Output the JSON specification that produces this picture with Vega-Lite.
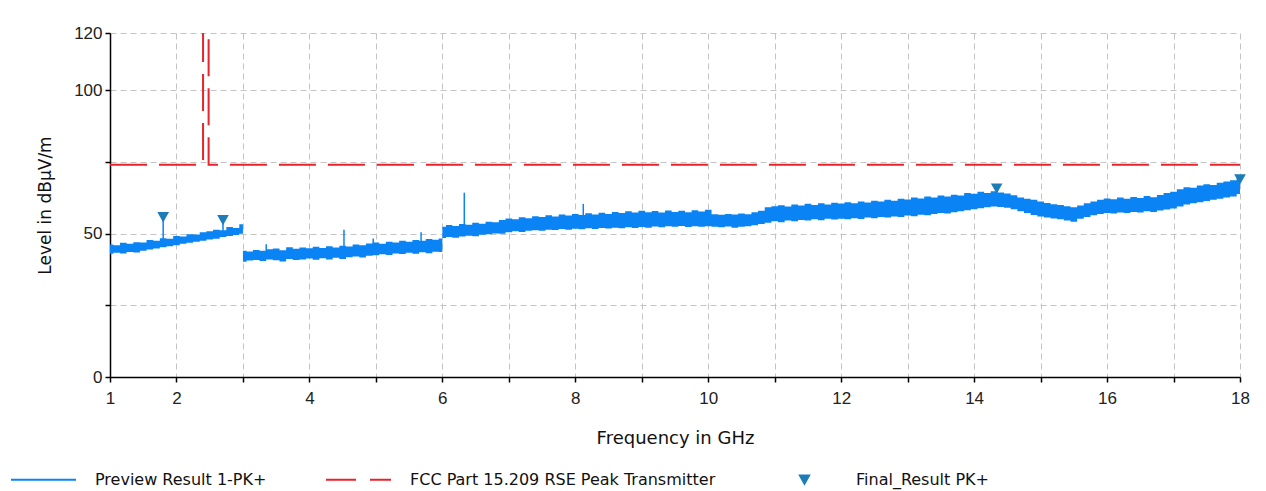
{
  "$schema": "https://vega.github.io/schema/vega-lite/v6.json",
  "width": 1130,
  "height": 344,
  "autosize": "none",
  "padding": {"left": 110, "top": 33, "right": 26, "bottom": 114},
  "background": "white",
  "config": {
    "font": "DejaVu Sans",
    "view": {"stroke": null},
    "axis": {
      "domainColor": "#000000",
      "domainWidth": 1.5,
      "tickColor": "#000000",
      "tickWidth": 1.5,
      "tickSize": 5,
      "gridColor": "#c4c4c4",
      "gridDash": [6, 4],
      "gridWidth": 1,
      "labelFont": "Liberation Sans",
      "labelFontSize": 17,
      "labelColor": "#222222",
      "titleFont": "DejaVu Sans",
      "titleFontSize": 17,
      "titleFontWeight": "normal",
      "titleColor": "#111111"
    },
    "legend": {
      "orient": "none",
      "legendX": -100,
      "legendY": 413,
      "direction": "horizontal",
      "columns": 3,
      "gridAlign": "each",
      "columnPadding": 55,
      "padding": 0,
      "labelFont": "DejaVu Sans",
      "labelFontSize": 16,
      "labelColor": "#111111",
      "labelOffset": 18,
      "labelLimit": 500,
      "symbolSize": 4225,
      "symbolStrokeWidth": 2
    }
  },
  "datasets": {
    "trace": [
      {"f": 1.0, "lo": 43.0, "hi": 46.2}, {"f": 1.1, "lo": 43.3, "hi": 46.0}, {"f": 1.2, "lo": 43.1, "hi": 46.8}, {"f": 1.3, "lo": 43.6, "hi": 46.5}, {"f": 1.4, "lo": 43.4, "hi": 47.0},
      {"f": 1.5, "lo": 44.0, "hi": 46.9}, {"f": 1.6, "lo": 44.5, "hi": 47.8}, {"f": 1.7, "lo": 44.8, "hi": 47.5}, {"f": 1.8, "lo": 45.3, "hi": 48.4}, {"f": 1.9, "lo": 45.6, "hi": 48.2},
      {"f": 2.0, "lo": 46.0, "hi": 49.2}, {"f": 2.1, "lo": 46.5, "hi": 49.0}, {"f": 2.2, "lo": 46.8, "hi": 49.8}, {"f": 2.3, "lo": 47.2, "hi": 49.7}, {"f": 2.4, "lo": 47.5, "hi": 50.5},
      {"f": 2.5, "lo": 48.0, "hi": 50.8}, {"f": 2.6, "lo": 48.2, "hi": 51.4}, {"f": 2.7, "lo": 48.8, "hi": 51.2}, {"f": 2.8, "lo": 49.2, "hi": 52.3}, {"f": 2.9, "lo": 49.5, "hi": 52.0},
      {"f": 2.99, "lo": 50.0, "hi": 53.3}, {"f": 3.01, "lo": 40.2, "hi": 44.0}, {"f": 3.1, "lo": 40.6, "hi": 43.8}, {"f": 3.2, "lo": 40.8, "hi": 44.3}, {"f": 3.3, "lo": 40.5, "hi": 44.0},
      {"f": 3.4, "lo": 41.0, "hi": 44.6}, {"f": 3.5, "lo": 40.7, "hi": 44.8}, {"f": 3.6, "lo": 40.3, "hi": 44.2}, {"f": 3.7, "lo": 41.2, "hi": 45.3}, {"f": 3.8, "lo": 40.8, "hi": 44.7},
      {"f": 3.9, "lo": 41.0, "hi": 45.2}, {"f": 4.0, "lo": 41.3, "hi": 44.9}, {"f": 4.1, "lo": 40.9, "hi": 45.4}, {"f": 4.2, "lo": 41.4, "hi": 45.0}, {"f": 4.3, "lo": 41.0, "hi": 45.6},
      {"f": 4.4, "lo": 41.6, "hi": 45.2}, {"f": 4.5, "lo": 41.2, "hi": 45.8}, {"f": 4.6, "lo": 41.8, "hi": 45.5}, {"f": 4.7, "lo": 42.0, "hi": 46.2}, {"f": 4.8, "lo": 41.7, "hi": 46.0},
      {"f": 4.9, "lo": 42.3, "hi": 46.6}, {"f": 5.0, "lo": 42.5, "hi": 46.9}, {"f": 5.1, "lo": 42.8, "hi": 46.5}, {"f": 5.2, "lo": 42.6, "hi": 47.2}, {"f": 5.3, "lo": 43.1, "hi": 46.9},
      {"f": 5.4, "lo": 42.9, "hi": 47.5}, {"f": 5.5, "lo": 43.3, "hi": 47.2}, {"f": 5.6, "lo": 43.0, "hi": 47.8}, {"f": 5.7, "lo": 43.5, "hi": 47.5}, {"f": 5.8, "lo": 43.2, "hi": 48.1},
      {"f": 5.9, "lo": 43.7, "hi": 47.9}, {"f": 5.99, "lo": 43.6, "hi": 48.3}, {"f": 6.01, "lo": 48.5, "hi": 52.4}, {"f": 6.1, "lo": 48.8, "hi": 53.0}, {"f": 6.2, "lo": 48.6, "hi": 52.7},
      {"f": 6.3, "lo": 49.0, "hi": 53.4}, {"f": 6.4, "lo": 49.3, "hi": 53.1}, {"f": 6.5, "lo": 49.1, "hi": 53.8}, {"f": 6.6, "lo": 49.6, "hi": 53.5}, {"f": 6.7, "lo": 49.8, "hi": 54.2},
      {"f": 6.8, "lo": 50.1, "hi": 54.0}, {"f": 6.9, "lo": 50.0, "hi": 54.8}, {"f": 7.0, "lo": 50.5, "hi": 55.3}, {"f": 7.1, "lo": 50.8, "hi": 55.0}, {"f": 7.2, "lo": 50.6, "hi": 55.7},
      {"f": 7.3, "lo": 51.0, "hi": 55.4}, {"f": 7.4, "lo": 51.2, "hi": 56.1}, {"f": 7.5, "lo": 51.0, "hi": 55.8}, {"f": 7.6, "lo": 51.4, "hi": 56.4}, {"f": 7.7, "lo": 51.3, "hi": 56.0},
      {"f": 7.8, "lo": 51.6, "hi": 56.7}, {"f": 7.9, "lo": 51.4, "hi": 56.3}, {"f": 8.0, "lo": 51.7, "hi": 56.9}, {"f": 8.1, "lo": 51.5, "hi": 56.5}, {"f": 8.2, "lo": 51.9, "hi": 57.1},
      {"f": 8.3, "lo": 51.6, "hi": 56.7}, {"f": 8.4, "lo": 52.0, "hi": 57.3}, {"f": 8.5, "lo": 51.8, "hi": 56.9}, {"f": 8.6, "lo": 52.1, "hi": 57.6}, {"f": 8.7, "lo": 51.9, "hi": 57.2},
      {"f": 8.8, "lo": 52.2, "hi": 57.8}, {"f": 8.9, "lo": 52.0, "hi": 57.4}, {"f": 9.0, "lo": 52.3, "hi": 58.0}, {"f": 9.1, "lo": 52.1, "hi": 57.5}, {"f": 9.2, "lo": 52.5, "hi": 57.9},
      {"f": 9.3, "lo": 52.2, "hi": 57.4}, {"f": 9.4, "lo": 52.6, "hi": 58.1}, {"f": 9.5, "lo": 52.4, "hi": 57.6}, {"f": 9.6, "lo": 52.7, "hi": 58.0}, {"f": 9.7, "lo": 52.3, "hi": 57.5},
      {"f": 9.8, "lo": 52.6, "hi": 58.2}, {"f": 9.9, "lo": 52.4, "hi": 57.7}, {"f": 10.0, "lo": 52.6, "hi": 58.3}, {"f": 10.1, "lo": 52.4, "hi": 56.8}, {"f": 10.2, "lo": 52.2, "hi": 56.6},
      {"f": 10.3, "lo": 52.5, "hi": 56.9}, {"f": 10.4, "lo": 52.1, "hi": 56.7}, {"f": 10.5, "lo": 52.4, "hi": 57.0}, {"f": 10.6, "lo": 52.6, "hi": 56.8}, {"f": 10.7, "lo": 52.9, "hi": 57.5},
      {"f": 10.8, "lo": 53.4, "hi": 58.0}, {"f": 10.9, "lo": 53.8, "hi": 59.2}, {"f": 11.0, "lo": 54.3, "hi": 59.6}, {"f": 11.1, "lo": 54.0, "hi": 59.9}, {"f": 11.2, "lo": 54.6, "hi": 59.5},
      {"f": 11.3, "lo": 54.3, "hi": 60.2}, {"f": 11.4, "lo": 54.8, "hi": 59.8}, {"f": 11.5, "lo": 54.6, "hi": 60.4}, {"f": 11.6, "lo": 55.0, "hi": 60.0}, {"f": 11.7, "lo": 54.7, "hi": 60.6},
      {"f": 11.8, "lo": 55.2, "hi": 60.2}, {"f": 11.9, "lo": 54.9, "hi": 60.8}, {"f": 12.0, "lo": 55.2, "hi": 60.5}, {"f": 12.1, "lo": 55.0, "hi": 61.0}, {"f": 12.2, "lo": 55.4, "hi": 60.6},
      {"f": 12.3, "lo": 55.1, "hi": 61.2}, {"f": 12.4, "lo": 55.6, "hi": 60.9}, {"f": 12.5, "lo": 55.4, "hi": 61.5}, {"f": 12.6, "lo": 55.8, "hi": 61.2}, {"f": 12.7, "lo": 55.6, "hi": 61.8},
      {"f": 12.8, "lo": 56.0, "hi": 61.5}, {"f": 12.9, "lo": 55.8, "hi": 62.2}, {"f": 13.0, "lo": 56.3, "hi": 61.9}, {"f": 13.1, "lo": 56.1, "hi": 62.6}, {"f": 13.2, "lo": 56.6, "hi": 62.3},
      {"f": 13.3, "lo": 56.4, "hi": 63.0}, {"f": 13.4, "lo": 56.9, "hi": 62.6}, {"f": 13.5, "lo": 57.2, "hi": 63.3}, {"f": 13.6, "lo": 57.0, "hi": 63.0}, {"f": 13.7, "lo": 57.5, "hi": 63.6},
      {"f": 13.8, "lo": 57.8, "hi": 63.3}, {"f": 13.9, "lo": 58.2, "hi": 64.2}, {"f": 14.0, "lo": 58.5, "hi": 63.9}, {"f": 14.1, "lo": 58.9, "hi": 64.6}, {"f": 14.2, "lo": 59.2, "hi": 64.2},
      {"f": 14.3, "lo": 59.5, "hi": 64.8}, {"f": 14.4, "lo": 59.3, "hi": 64.4}, {"f": 14.5, "lo": 59.0, "hi": 64.0}, {"f": 14.6, "lo": 58.5, "hi": 63.4}, {"f": 14.7, "lo": 57.8, "hi": 62.6},
      {"f": 14.8, "lo": 57.2, "hi": 62.2}, {"f": 14.9, "lo": 56.5, "hi": 61.8}, {"f": 15.0, "lo": 56.0, "hi": 61.2}, {"f": 15.1, "lo": 55.6, "hi": 60.7}, {"f": 15.2, "lo": 55.3, "hi": 60.3},
      {"f": 15.3, "lo": 55.0, "hi": 60.0}, {"f": 15.4, "lo": 54.6, "hi": 59.6}, {"f": 15.5, "lo": 54.2, "hi": 59.2}, {"f": 15.6, "lo": 55.2, "hi": 59.8}, {"f": 15.7, "lo": 55.8, "hi": 60.6},
      {"f": 15.8, "lo": 56.4, "hi": 61.2}, {"f": 15.9, "lo": 56.9, "hi": 61.8}, {"f": 16.0, "lo": 57.2, "hi": 62.3}, {"f": 16.1, "lo": 57.0, "hi": 62.0}, {"f": 16.2, "lo": 57.4, "hi": 62.6},
      {"f": 16.3, "lo": 57.2, "hi": 62.2}, {"f": 16.4, "lo": 57.6, "hi": 62.8}, {"f": 16.5, "lo": 57.4, "hi": 62.4}, {"f": 16.6, "lo": 57.8, "hi": 63.1}, {"f": 16.7, "lo": 57.6, "hi": 62.7},
      {"f": 16.8, "lo": 58.1, "hi": 63.5}, {"f": 16.9, "lo": 58.4, "hi": 64.2}, {"f": 17.0, "lo": 58.8, "hi": 64.6}, {"f": 17.1, "lo": 59.5, "hi": 65.5}, {"f": 17.2, "lo": 60.2, "hi": 66.2},
      {"f": 17.3, "lo": 60.6, "hi": 66.0}, {"f": 17.4, "lo": 61.0, "hi": 66.8}, {"f": 17.5, "lo": 61.4, "hi": 67.2}, {"f": 17.6, "lo": 61.8, "hi": 67.0}, {"f": 17.7, "lo": 62.2, "hi": 67.8},
      {"f": 17.8, "lo": 62.6, "hi": 68.2}, {"f": 17.9, "lo": 63.0, "hi": 68.6}, {"f": 18.0, "lo": 63.8, "hi": 69.5}
    ],
    "spikes": [
      {"f": 1.8, "base": 47.0, "top": 55.5},
      {"f": 2.7, "base": 50.0, "top": 54.5},
      {"f": 3.35, "base": 43.5, "top": 46.3},
      {"f": 4.52, "base": 45.0, "top": 51.4},
      {"f": 4.96, "base": 46.0, "top": 48.3},
      {"f": 5.68, "base": 47.0, "top": 50.5},
      {"f": 6.33, "base": 52.5, "top": 64.3},
      {"f": 8.12, "base": 56.0, "top": 60.4}
    ],
    "limit": [
      {"i": 0, "f": 1.0, "v": 74},
      {"i": 1, "f": 2.4, "v": 74},
      {"i": 2, "f": 2.4, "v": 130},
      {"i": 3, "f": 2.4835, "v": 130},
      {"i": 4, "f": 2.4835, "v": 74},
      {"i": 5, "f": 18.0, "v": 74}
    ],
    "markers": [
      {"f": 1.8, "v": 55.8, "series": "Final_Result PK+"},
      {"f": 2.7, "v": 54.8, "series": "Final_Result PK+"},
      {"f": 14.34, "v": 65.8, "series": "Final_Result PK+"},
      {"f": 18.0, "v": 69.0, "series": "Final_Result PK+"}
    ]
  },
  "layer": [
    {
      "data": {"name": "trace"},
      "mark": {"type": "area", "interpolate": "step", "color": "#0A84F4", "opacity": 1},
      "encoding": {
        "x": {
          "field": "f", "type": "quantitative",
          "scale": {"domain": [1, 18], "nice": false, "zero": false},
          "axis": {
            "title": "Frequency in GHz",
            "values": [1, 2, 3, 4, 5, 6, 7, 8, 9, 10, 11, 12, 13, 14, 15, 16, 17, 18],
            "format": "d",
            "labelExpr": "(datum.value == 1 || datum.value % 2 == 0) ? datum.label : ''",
            "labelFlush": false,
            "labelPadding": 8,
            "titlePadding": 23,
            "titleFontSize": 18
          }
        },
        "y": {
          "field": "lo", "type": "quantitative",
          "scale": {"domain": [0, 120], "nice": false},
          "axis": {
            "title": "Level in dBµV/m",
            "values": [0, 25, 50, 75, 100, 120],
            "format": "d",
            "labelExpr": "(datum.value == 25 || datum.value == 75) ? '' : datum.label",
            "labelPadding": 3,
            "titlePadding": 19,
            "titleFontSize": 17
          }
        },
        "y2": {"field": "hi"}
      }
    },
    {
      "data": {"name": "spikes"},
      "mark": {"type": "rule", "color": "#0A84F4", "strokeWidth": 1.5},
      "encoding": {
        "x": {"field": "f", "type": "quantitative"},
        "y": {"field": "base", "type": "quantitative"},
        "y2": {"field": "top"}
      }
    },
    {
      "data": {"name": "limit"},
      "mark": {"type": "line", "color": "#E8232B", "strokeWidth": 2, "strokeDash": [37, 12], "clip": true},
      "encoding": {
        "x": {"field": "f", "type": "quantitative"},
        "y": {"field": "v", "type": "quantitative"},
        "order": {"field": "i", "type": "quantitative"}
      }
    },
    {
      "data": {"name": "markers"},
      "mark": {"type": "point", "filled": true, "opacity": 1, "strokeWidth": 1.5, "size": 4225},
      "encoding": {
        "x": {"field": "f", "type": "quantitative"},
        "y": {"field": "v", "type": "quantitative"},
        "fill": {
          "field": "series", "type": "nominal", "title": null,
          "scale": {"domain": ["Preview Result 1-PK+", "FCC Part 15.209 RSE Peak Transmitter", "Final_Result PK+"], "range": ["transparent", "transparent", "#1C7DB8"]}
        },
        "stroke": {
          "field": "series", "type": "nominal", "title": null,
          "scale": {"domain": ["Preview Result 1-PK+", "FCC Part 15.209 RSE Peak Transmitter", "Final_Result PK+"], "range": ["#0A84F4", "#E8232B", "#1C7DB8"]}
        },
        "shape": {
          "field": "series", "type": "nominal", "title": null,
          "scale": {"domain": ["Preview Result 1-PK+", "FCC Part 15.209 RSE Peak Transmitter", "Final_Result PK+"], "range": ["stroke", "stroke", "M-0.14,-0.13L0.14,-0.13L0,0.12Z"]}
        },
        "strokeDash": {
          "field": "series", "type": "nominal", "title": null,
          "scale": {"domain": ["Preview Result 1-PK+", "FCC Part 15.209 RSE Peak Transmitter", "Final_Result PK+"], "range": [[1, 0], [30, 14], [1, 0]]}
        }
      }
    }
  ]
}
